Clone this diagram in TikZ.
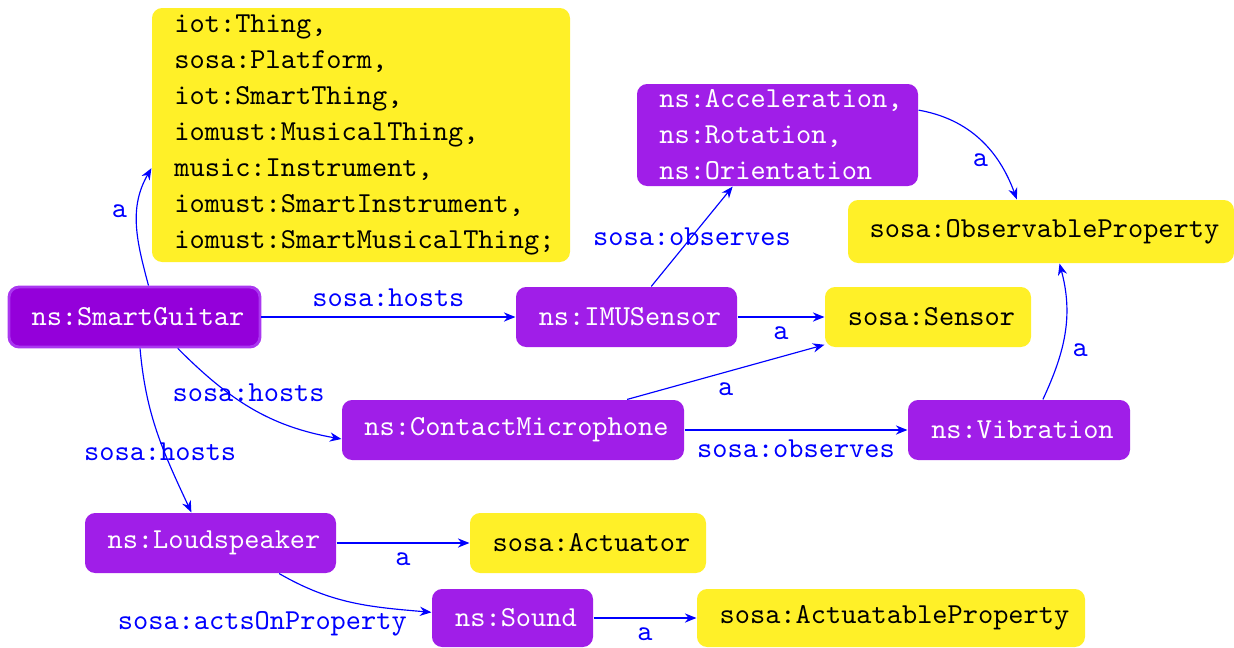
\documentclass[tikz,border=0pt]{standalone}
\usepackage{fontspec}
\usetikzlibrary{arrows.meta}
\definecolor{tagyellow}{RGB}{255,240,40}
\definecolor{tagpurple}{RGB}{160,30,232}
\definecolor{rootpurple}{RGB}{148,0,218}
\definecolor{rootedge}{RGB}{170,55,240}
\definecolor{linkblue}{RGB}{0,0,255}
% one line of box text, nudged a little to the right
\newcommand\tx[1]{\kern1.2pt#1\kern-1.2pt}
\begin{document}
\begin{tikzpicture}[x=0.3454pt,y=0.3454pt,
  box/.style 2 args={rectangle, rounded corners=3.5pt, inner sep=0pt,
    minimum width=#1*0.3454pt, minimum height=#2*0.3454pt,
    font=\ttfamily\fontsize{10}{12.4}\selectfont, align=left},
  cls/.style={fill=tagyellow, text=black},
  res/.style={fill=tagpurple, text=white},
  rel/.style={draw=linkblue, line width=0.4pt, -{Stealth[length=4pt,width=3.2pt]}},
  lbl/.style={text=linkblue, font=\ttfamily}]
\useasboundingbox (0,0) rectangle (1234,-647);

% class boxes
\node[box={418}{254}, cls] (things) at (361,-135) {\tx{iot:Thing,}\\\tx{sosa:Platform,}\\\tx{iot:SmartThing,}\\\tx{iomust:MusicalThing,}\\\tx{music:Instrument,}\\\tx{iomust:SmartInstrument,}\\\tx{iomust:SmartMusicalThing;}};
\node[box={206}{60}, cls] (sensor) at (928,-317) {\tx{sosa:Sensor}};
\node[box={386}{63}, cls] (obsprop) at (1041,-231.5) {\tx{sosa:ObservableProperty}};
\node[box={236}{60}, cls] (actuator) at (588,-543) {\tx{sosa:Actuator}};
\node[box={388}{58}, cls] (actprop) at (891,-618) {\tx{sosa:ActuatableProperty}};

% resources
\node[box={251}{60}, fill=rootpurple, draw=rootedge, line width=1pt, text=white] (guitar) at (134.5,-317) {\tx{ns:SmartGuitar}};
\node[box={221}{60}, res] (imu) at (626.5,-317) {\tx{ns:IMUSensor}};
\node[box={281}{102}, res] (motion) at (777.5,-135) {\tx{ns:Acceleration,}\\\tx{ns:Rotation,}\\\tx{ns:Orientation}};
\node[box={342}{60}, res] (mic) at (513,-430) {\tx{ns:ContactMicrophone}};
\node[box={222}{60}, res] (vib) at (1019,-430) {\tx{ns:Vibration}};
\node[box={251}{60}, res] (speaker) at (210.5,-543) {\tx{ns:Loudspeaker}};
\node[box={161}{58}, res] (sound) at (512.5,-618) {\tx{ns:Sound}};

% relations
\draw[rel] (guitar.66) to[out=105,in=240] node[lbl,pos=0.62,left] {a} (things.189);
\draw[rel] (guitar.east) -- node[lbl,above] {sosa:hosts} (imu.west);
\draw[rel] (guitar.-36) to[out=-45,in=170] node[lbl,pos=0.42,xshift=3pt,yshift=3pt] {sosa:hosts} (mic.183);
\draw[rel] (guitar.-80) to[out=-85,in=115] node[lbl,pos=0.63,xshift=-1.5pt] {sosa:hosts} (speaker.122);
\draw[rel] (imu.51) -- node[lbl] {sosa:observes} (motion.229);
\draw[rel] (imu.east) -- node[lbl,below] {a} (sensor.west);
\draw[rel] (mic.15) -- node[lbl,below] {a} (sensor.195);
\draw[rel] (mic.east) -- node[lbl,below] {sosa:observes} (vib.west);
\draw[rel] (vib.52) to[out=65,in=-75] node[lbl,pos=0.4,right,yshift=-1.5pt] {a} (obsprop.-60);
\draw[rel] (motion.10) to[out=-10,in=110] node[lbl,pos=0.62,left,xshift=2.5pt,yshift=-3pt] {a} (obsprop.127);
\draw[rel] (speaker.east) -- node[lbl,below] {a} (actuator.west);
\draw[rel] (speaker.-24) to[out=-30,in=175] node[lbl,pos=0.85,below left,xshift=4pt,yshift=3pt] {sosa:actsOnProperty} (sound.176);
\draw[rel] (sound.east) -- node[lbl,below] {a} (actprop.west);
\end{tikzpicture}
\end{document}
